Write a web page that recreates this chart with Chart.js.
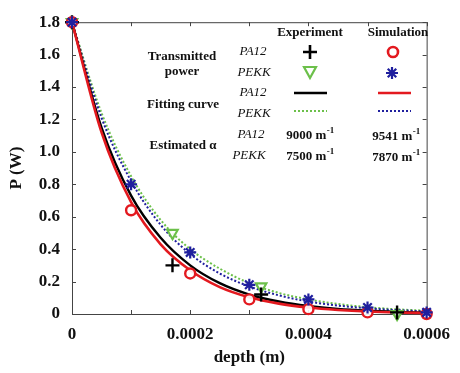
<!DOCTYPE html>
<html>
<head>
<meta charset="utf-8">
<script src="https://cdn.jsdelivr.net/npm/chart.js@4.4.0/dist/chart.umd.min.js"></script>
<style>
    html, body { margin: 0; padding: 0; background: #fff; }
    #wrap { width: 460px; height: 373px; }
</style>
</head>
<body>
<div id="wrap"><canvas id="powerChart" width="460" height="373"></canvas></div>
<script>
// fitted curves, every 0.00005 m
const fitDepth = [0, 0.00005, 0.0001, 0.00015, 0.0002, 0.00025, 0.0003, 0.00035, 0.0004, 0.00045, 0.0005, 0.00055, 0.0006];
const fitPA12Exp = [1.80, 1.15, 0.73, 0.47, 0.30, 0.19, 0.12, 0.077, 0.049, 0.031, 0.020, 0.013, 0.008];
const fitPA12Sim = [1.80, 1.12, 0.69, 0.43, 0.27, 0.166, 0.103, 0.064, 0.040, 0.025, 0.015, 0.009, 0.006];
const fitPEKKExp = [1.80, 1.24, 0.85, 0.58, 0.40, 0.28, 0.19, 0.13, 0.090, 0.062, 0.042, 0.029, 0.020];
const fitPEKKSim = [1.80, 1.21, 0.82, 0.55, 0.37, 0.25, 0.17, 0.115, 0.077, 0.052, 0.035, 0.024, 0.016];

// measured points
const expDepth = [0, 0.00017, 0.00032, 0.00055];
const expPA12Power = [1.80, 0.30, 0.12, 0.01];
const expPEKKPower = [1.80, 0.50, 0.17, 0.00];

// simulated points
const simDepth = [0, 0.0001, 0.0002, 0.0003, 0.0004, 0.0005, 0.0006];
const simPA12Power = [1.80, 0.64, 0.25, 0.09, 0.03, 0.01, 0.00];
const simPEKKPower = [1.80, 0.80, 0.38, 0.18, 0.09, 0.04, 0.01];

const xTickValues = [0, 0.0001, 0.0002, 0.0003, 0.0004, 0.0005, 0.0006];
const xTickLabels = ['0', '', '0.0002', '', '0.0004', '', '0.0006'];
const yTickValues = [0, 0.2, 0.4, 0.6, 0.8, 1.0, 1.2, 1.4, 1.6, 1.8];
const yTickLabels = ['0', '0.2', '0.4', '0.6', '0.8', '1.0', '1.2', '1.4', '1.6', '1.8'];

const RED = '#e3191f';
const GREEN = '#6cc04a';
const BLUE = '#1f1f9e';
const SERIF = '"Liberation Serif", "DejaVu Serif", serif';

function pts(xs, ys) {
    return xs.map((x, i) => ({ x: x, y: ys[i] }));
}

// frame with inward ticks on all four sides
const framePlugin = {
    id: 'frame',
    beforeDatasetsDraw(chart) {
        const ctx = chart.ctx;
        const a = chart.chartArea;
        const xs = chart.scales.x, ys = chart.scales.y;
        const len = 4;
        ctx.save();
        ctx.strokeStyle = '#444';
        ctx.lineWidth = 1;
        ctx.strokeRect(a.left + 0.5, a.top + 0.5, a.right - a.left, a.bottom - a.top);
        ctx.beginPath();
        xTickValues.forEach(v => {
            const px = Math.round(xs.getPixelForValue(v)) + 0.5;
            ctx.moveTo(px, a.bottom); ctx.lineTo(px, a.bottom - len);
            ctx.moveTo(px, a.top); ctx.lineTo(px, a.top + len);
        });
        yTickValues.forEach(v => {
            const py = Math.round(ys.getPixelForValue(v)) + 0.5;
            ctx.moveTo(a.left, py); ctx.lineTo(a.left + len, py);
            ctx.moveTo(a.right, py); ctx.lineTo(a.right - len, py);
        });
        ctx.stroke();
        ctx.restore();
    }
};

function marker(ctx, kind, x, y) {
    ctx.save();
    ctx.lineWidth = 2.2;
    ctx.beginPath();
    if (kind === 'cross') {
        ctx.strokeStyle = '#000';
        ctx.lineWidth = 2.6;
        ctx.moveTo(x - 7, y); ctx.lineTo(x + 7, y);
        ctx.moveTo(x, y - 7); ctx.lineTo(x, y + 7);
        ctx.stroke();
    } else if (kind === 'circle') {
        ctx.strokeStyle = RED;
        ctx.lineWidth = 2.6;
        ctx.arc(x, y, 5, 0, Math.PI * 2);
        ctx.stroke();
    } else if (kind === 'tri') {
        ctx.strokeStyle = GREEN;
        ctx.moveTo(x - 6, y - 5); ctx.lineTo(x + 6, y - 5); ctx.lineTo(x, y + 6); ctx.closePath();
        ctx.stroke();
    } else if (kind === 'star') {
        ctx.strokeStyle = BLUE;
        for (let k = 0; k < 4; k++) {
            const t = k * Math.PI / 4;
            ctx.moveTo(x - 6 * Math.cos(t), y - 6 * Math.sin(t));
            ctx.lineTo(x + 6 * Math.cos(t), y + 6 * Math.sin(t));
        }
        ctx.stroke();
    }
    ctx.restore();
}

function line(ctx, color, dash, x1, x2, y) {
    ctx.save();
    ctx.strokeStyle = color;
    ctx.lineWidth = dash ? 2 : 2.6;
    ctx.setLineDash(dash ? [2, 2] : []);
    ctx.beginPath();
    ctx.moveTo(x1, y); ctx.lineTo(x2, y);
    ctx.stroke();
    ctx.restore();
}

function alpha(ctx, num, x, y) {
    ctx.font = 'bold 13px ' + SERIF;
    const w1 = ctx.measureText(num + ' m').width;
    ctx.font = 'bold 9px ' + SERIF;
    const w2 = ctx.measureText('-1').width;
    const start = x - (w1 + w2) / 2;
    ctx.textAlign = 'left';
    ctx.font = 'bold 13px ' + SERIF;
    ctx.fillText(num + ' m', start, y);
    ctx.font = 'bold 9px ' + SERIF;
    ctx.fillText('-1', start + w1 + 0.5, y - 5);
    ctx.textAlign = 'center';
}

const legendPlugin = {
    id: 'legendTable',
    afterDraw(chart) {
        const ctx = chart.ctx;
        ctx.save();
        ctx.fillStyle = '#111';
        ctx.textAlign = 'center';
        ctx.textBaseline = 'middle';

        ctx.font = 'bold 13px ' + SERIF;
        ctx.fillText('Experiment', 310, 33);
        ctx.fillText('Simulation', 398, 33);
        ctx.fillText('Transmitted', 182, 57);
        ctx.fillText('power', 182, 72);
        ctx.fillText('Fitting curve', 183, 105);
        ctx.fillText('Estimated \u03b1', 183, 146);

        ctx.font = 'italic 13px ' + SERIF;
        ctx.fillText('PA12', 253, 52);
        ctx.fillText('PEKK', 254, 73);
        ctx.fillText('PA12', 253, 93);
        ctx.fillText('PEKK', 254, 114);
        ctx.fillText('PA12', 251, 135);
        ctx.fillText('PEKK', 249, 156);

        marker(ctx, 'cross', 310, 52);
        marker(ctx, 'circle', 393, 52);
        marker(ctx, 'tri', 310, 72);
        marker(ctx, 'star', 392, 73);

        line(ctx, '#000', false, 294, 327, 93);
        line(ctx, RED, false, 378, 411, 93);
        line(ctx, GREEN, true, 294, 327, 111);
        line(ctx, BLUE, true, 378, 411, 111);

        alpha(ctx, '9000', 310, 136);
        alpha(ctx, '9541', 396, 137);
        alpha(ctx, '7500', 310, 157);
        alpha(ctx, '7870', 396, 158);
        ctx.restore();
    }
};

const tickFont = { family: SERIF, size: 17, weight: 'bold' };

new Chart(document.getElementById('powerChart'), {
    type: 'scatter',
    data: {
        datasets: [
            {
                label: 'Simulation PEKK',
                data: pts(simDepth, simPEKKPower),
                pointStyle: 'star',
                pointRadius: 6,
                borderColor: BLUE,
                backgroundColor: BLUE,
                pointBorderWidth: 2.2,
                clip: false
            },
            {
                label: 'Simulation PA12',
                data: pts(simDepth, simPA12Power),
                pointStyle: 'circle',
                pointRadius: 5,
                borderColor: RED,
                backgroundColor: 'rgba(255,255,255,0.9)',
                pointBorderWidth: 2.4,
                clip: false
            },
            {
                label: 'Experiment PA12',
                data: pts(expDepth, expPA12Power),
                pointStyle: 'cross',
                pointRadius: 7,
                borderColor: '#000',
                pointBorderWidth: 2.4,
                clip: false
            },
            {
                label: 'Experiment PEKK',
                data: pts(expDepth, expPEKKPower),
                pointStyle: 'triangle',
                rotation: 180,
                pointRadius: 6,
                borderColor: GREEN,
                backgroundColor: 'rgba(255,255,255,0.9)',
                pointBorderWidth: 2.2,
                clip: false
            },
            {
                label: 'Fit PA12 simulation',
                data: pts(fitDepth, fitPA12Sim),
                showLine: true,
                pointRadius: 0,
                borderColor: RED,
                borderWidth: 2.6,
                cubicInterpolationMode: 'monotone',
                clip: false
            },
            {
                label: 'Fit PA12 experiment',
                data: pts(fitDepth, fitPA12Exp),
                showLine: true,
                pointRadius: 0,
                borderColor: '#000',
                borderWidth: 2.4,
                cubicInterpolationMode: 'monotone',
                clip: false
            },
            {
                label: 'Fit PEKK simulation',
                data: pts(fitDepth, fitPEKKSim),
                showLine: true,
                pointRadius: 0,
                borderColor: BLUE,
                borderWidth: 2,
                borderDash: [2, 2],
                cubicInterpolationMode: 'monotone',
                clip: false
            },
            {
                label: 'Fit PEKK experiment',
                data: pts(fitDepth, fitPEKKExp),
                showLine: true,
                pointRadius: 0,
                borderColor: GREEN,
                borderWidth: 2,
                borderDash: [2, 2],
                cubicInterpolationMode: 'monotone',
                clip: false
            }
        ]
    },
    options: {
        responsive: false,
        animation: false,
        events: [],
        layout: { padding: { top: 14, right: 23, left: 0, bottom: 0 } },
        plugins: {
            legend: { display: false },
            tooltip: { enabled: false }
        },
        scales: {
            x: {
                type: 'linear',
                min: 0,
                max: 0.0006,
                afterFit: s => { s.height = 59; },
                afterBuildTicks: s => { s.ticks = xTickValues.map(v => ({ value: v })); },
                grid: { display: false, drawTicks: false },
                border: { display: false },
                ticks: {
                    padding: 10,
                    maxRotation: 0,
                    autoSkip: false,
                    color: '#111',
                    font: tickFont,
                    callback: (v, i) => xTickLabels[i]
                },
                title: {
                    display: true,
                    text: 'depth (m)',
                    color: '#111',
                    font: tickFont,
                    padding: { top: 0, bottom: 5 }
                }
            },
            y: {
                type: 'linear',
                min: 0,
                max: 1.8,
                afterFit: s => { s.width = 72; },
                afterBuildTicks: s => { s.ticks = yTickValues.map(v => ({ value: v })); },
                grid: { display: false, drawTicks: false },
                border: { display: false },
                ticks: {
                    padding: 12,
                    autoSkip: false,
                    color: '#111',
                    font: tickFont,
                    callback: (v, i) => yTickLabels[i]
                },
                title: {
                    display: true,
                    text: 'P (W)',
                    color: '#111',
                    font: tickFont,
                    padding: { top: 6, bottom: 0 }
                }
            }
        }
    },
    plugins: [framePlugin, legendPlugin]
});
</script>
</body>
</html>
